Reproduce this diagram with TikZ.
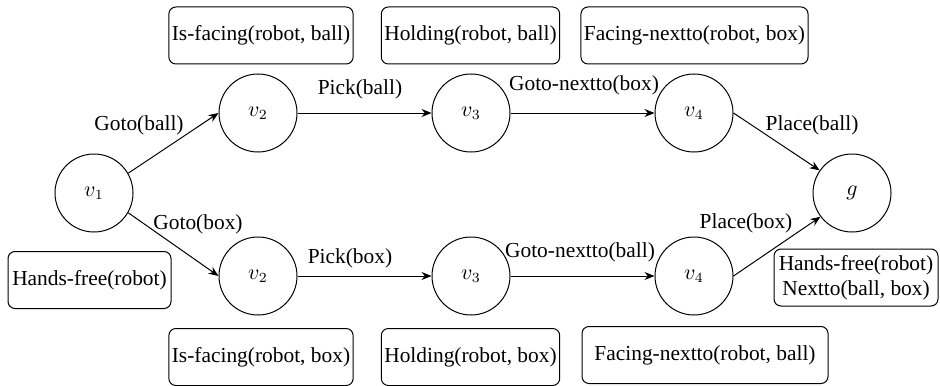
\documentclass[tikz,border=0pt]{standalone}
\usepackage[no-math]{fontspec}
\setmainfont{Liberation Serif}
\newfontfamily\factfont{Liberation Serif}
\usetikzlibrary{arrows.meta}

\begin{document}
\begin{tikzpicture}[x=0.5pt,y=-0.5pt,line width=0.5pt,
    font=\factfont\fontsize{10.7}{12.5}\selectfont,
    state/.style={draw,circle,minimum size=39pt,inner sep=0pt},
    fact/.style={draw,rounded corners=3.5pt,minimum height=28.5pt,inner xsep=1.5pt,inner ysep=1pt,align=center},
    act/.style={-{Stealth[length=5pt,width=4pt]}}]
    \useasboundingbox (0,0) rectangle (940,385);
    % states
    \node[state] (v1) at (94,193) {$v_1$};
    \node[state] (a2) at (258,113) {$v_2$};
    \node[state] (a3) at (471,113) {$v_3$};
    \node[state] (a4) at (694,113) {$v_4$};
    \node[state] (b2) at (258,276) {$v_2$};
    \node[state] (b3) at (471,276) {$v_3$};
    \node[state] (b4) at (694,276) {$v_4$};
    \node[state] (g) at (852,193) {$g$};
    % facts
    \node[fact] (fa2) at (261,35.5) {Is-facing(robot, ball)};
    \node[fact] (fa3) at (470.5,35.5) {Holding(robot, ball)};
    \node[fact,minimum width=112.5pt] (fa4) at (694.5,35.5) {Facing-nextto(robot, box)};
    \node[fact,minimum width=81.5pt] (fv1) at (89.5,280) {Hands-free(robot)};
    \node[fact] (fb2) at (261,357) {Is-facing(robot, box)};
    \node[fact] (fb3) at (470.5,357) {Holding(robot, box)};
    \node[fact,minimum width=123pt] (fb4) at (705,355) {Facing-nextto(robot, ball)};
    \node[fact,minimum width=82pt] (fg) at (856,277.5) {Hands-free(robot)\\Nextto(ball, box)};
    % actions
    \draw[act] (v1.30) -- (a2.west);
    \draw[act] (a2.east) -- (a3.west);
    \draw[act] (a3.east) -- (a4.west);
    \draw[act] (a4.east) -- (g.145);
    \draw[act] (v1.-30) -- (b2.west);
    \draw[act] (b2.east) -- (b3.west);
    \draw[act] (b3.east) -- (b4.west);
    \draw[act] (b4.east) -- (g.-143);
    \node (l1) at (139,125) {Goto(ball)};
    \node (l2) at (360,89) {Pick(ball)};
    \node (l3) at (584,85) {Goto-nextto(box)};
    \node (l4) at (812,125) {Place(ball)};
    \node (l5) at (198,224) {Goto(box)};
    \node (l6) at (350,258) {Pick(box)};
    \node (l7) at (580,252) {Goto-nextto(ball)};
    \node (l8) at (746,223) {Place(box)};
\end{tikzpicture}
\end{document}
